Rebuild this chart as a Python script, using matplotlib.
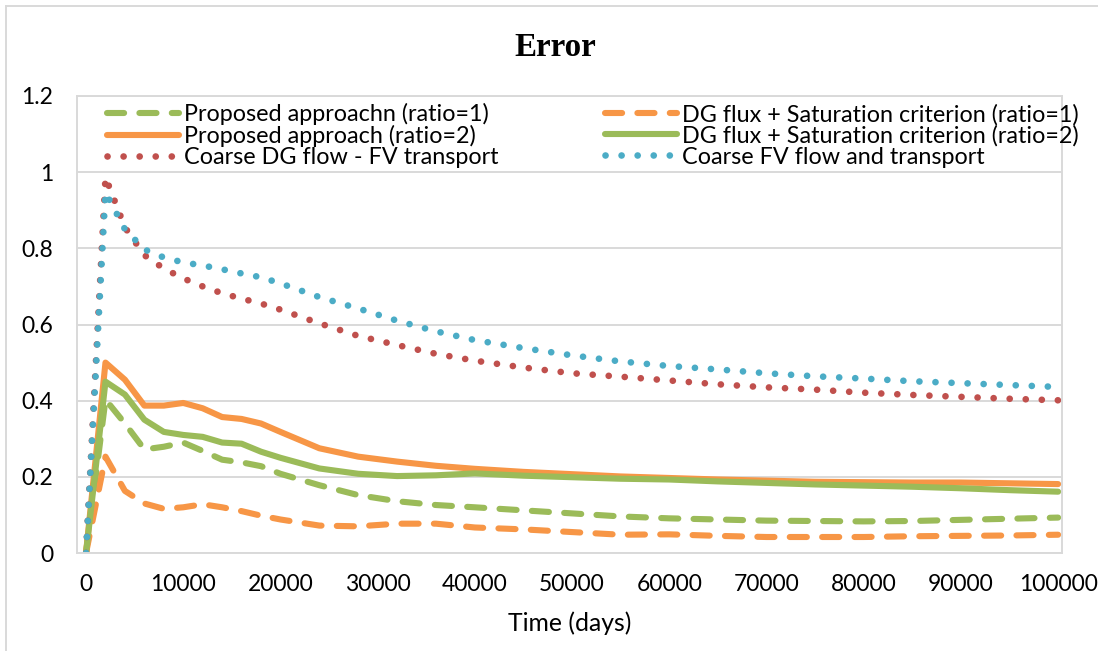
import matplotlib
matplotlib.use("Agg")
import matplotlib.pyplot as plt
from matplotlib.lines import Line2D

# time (days)
time = [0, 2000, 4000, 6000, 8000, 10000, 12000, 14000, 16000, 18000, 20000,
        24000, 28000, 32000, 36000, 40000, 45000, 50000, 55000, 60000, 65000,
        70000, 75000, 80000, 85000, 90000, 95000, 100000]

proposed_r1 = [0, 0.403, 0.34, 0.272, 0.279, 0.29, 0.268, 0.245, 0.238, 0.228, 0.208,
               0.178, 0.152, 0.136, 0.126, 0.12, 0.112, 0.104, 0.096, 0.091, 0.088,
               0.085, 0.084, 0.083, 0.084, 0.087, 0.09, 0.093]
dgsat_r1 = [0, 0.253, 0.163, 0.13, 0.116, 0.12, 0.128, 0.12, 0.11, 0.098, 0.088,
            0.072, 0.07, 0.077, 0.077, 0.067, 0.062, 0.055, 0.048, 0.049, 0.045,
            0.042, 0.042, 0.042, 0.044, 0.045, 0.046, 0.048]
proposed_r2 = [0, 0.50, 0.455, 0.387, 0.387, 0.394, 0.38, 0.357, 0.352, 0.34, 0.318,
               0.275, 0.253, 0.24, 0.229, 0.221, 0.213, 0.207, 0.201, 0.197, 0.193,
               0.19, 0.187, 0.186, 0.185, 0.185, 0.183, 0.181]
dgsat_r2 = [0, 0.45, 0.416, 0.35, 0.318, 0.31, 0.305, 0.29, 0.287, 0.266, 0.25,
            0.222, 0.208, 0.202, 0.204, 0.209, 0.203, 0.199, 0.195, 0.193, 0.188,
            0.184, 0.18, 0.177, 0.174, 0.17, 0.165, 0.161]
coarse_dg_fv = [0, 0.987, 0.855, 0.782, 0.747, 0.721, 0.70, 0.682, 0.668, 0.655, 0.639,
                0.603, 0.57, 0.546, 0.523, 0.505, 0.487, 0.472, 0.463, 0.453, 0.443,
                0.435, 0.429, 0.421, 0.415, 0.41, 0.405, 0.401]
coarse_fv = [0, 0.947, 0.85, 0.797, 0.776, 0.763, 0.755, 0.745, 0.734, 0.724, 0.708,
             0.672, 0.642, 0.61, 0.582, 0.559, 0.538, 0.519, 0.503, 0.491, 0.482,
             0.472, 0.464, 0.458, 0.451, 0.446, 0.441, 0.436]

labels = ["Proposed approachn (ratio=1)", "DG flux + Saturation criterion (ratio=1)",
          "Proposed approach (ratio=2)", "DG flux + Saturation criterion (ratio=2)",
          "Coarse DG flow - FV transport", "Coarse FV flow and transport"]

GREEN = "#9BBB59"
ORANGE = "#F79646"
RED = "#C0504D"
BLUE = "#4BACC6"
GRID = "#D9D9D9"

W, H = 1098, 651
fig = plt.figure(figsize=(W / 100, H / 100), dpi=100)
ax = fig.add_axes([77 / W, 1 - 553 / H, (1062 - 77) / W, (553 - 96) / H])

lw = 4.4
dash = (2.8, 2.5)
dot = (0.01, 2.4)
series = [
    (proposed_r1, GREEN, dash, lw),
    (dgsat_r1, ORANGE, dash, lw),
    (proposed_r2, ORANGE, None, lw),
    (dgsat_r2, GREEN, None, lw),
    (coarse_dg_fv, RED, dot, 4.8),
    (coarse_fv, BLUE, dot, 4.8),
]
handles = []
for (vals, col, ls, w), lab in zip(series, labels):
    kw = dict(color=col, lw=w, solid_capstyle="round", dash_capstyle="round",
              solid_joinstyle="round")
    if ls is None:
        ax.plot(time, vals, **kw)
    else:
        ax.plot(time, vals, dashes=ls, **kw)
    h = Line2D([], [], **kw)
    if ls is not None:
        h.set_dashes(ls)
    handles.append(h)

ax.set_xlim(-930, 100400)
ax.set_ylim(0, 1.2)
ax.set_xticks(range(0, 100001, 10000))
ax.set_yticks([0, 0.2, 0.4, 0.6, 0.8, 1.0, 1.2])
ax.set_yticklabels(["0", "0.2", "0.4", "0.6", "0.8", "1", "1.2"])
ax.grid(axis="y", color=GRID, lw=1.4)
ax.set_axisbelow(True)
for s in ax.spines.values():
    s.set_color(GRID)
    s.set_linewidth(1.4)
ax.tick_params(length=0, labelsize=16.5)
ax.tick_params(axis="y", pad=17)
ax.tick_params(axis="x", pad=15)
for t in ax.get_xticklabels() + ax.get_yticklabels():
    t.set_fontfamily("Lato")

ax.set_xlabel("Time (days)", fontsize=17.8, fontfamily="Lato", labelpad=12)

# legend order: row-major in two columns
order = [0, 2, 4, 1, 3, 5]
leg = ax.legend([handles[i] for i in order], [labels[i] for i in order],
                ncol=2, loc="upper left", bbox_to_anchor=(0.021, 1.005),
                frameon=False, prop={"family": "Lato", "size": 16.8},
                handlelength=3.1, handletextpad=0.2, columnspacing=4.55,
                labelspacing=0.0, borderaxespad=0)

fig.text(555 / W, 1 - 47 / H, "Error", ha="center", va="center",
         fontsize=23.8, fontweight="bold", fontfamily="Liberation Serif")

# outer chart frame
fig.add_artist(Line2D([6 / W, 6 / W], [0, 1 - 6 / H], color=GRID, lw=1.4,
                      transform=fig.transFigure))
fig.add_artist(Line2D([6 / W, 1], [1 - 6 / H, 1 - 6 / H], color=GRID, lw=1.4,
                      transform=fig.transFigure))

fig.savefig("out.png", dpi=100)
